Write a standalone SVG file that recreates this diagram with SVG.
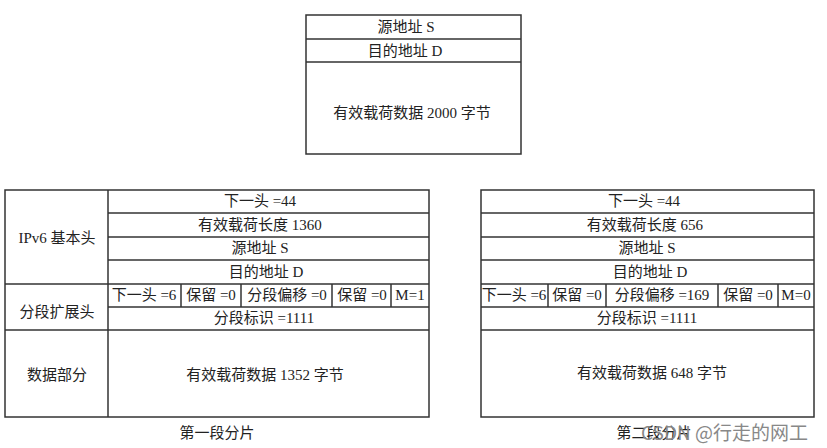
<svg xmlns="http://www.w3.org/2000/svg" width="827" height="448" viewBox="0 0 827 448">
<style>
.b{fill:none;stroke:#333;stroke-width:1.5}
.l{stroke:#333;stroke-width:1.5}
text{font-family:"Liberation Serif","Noto Sans CJK SC",serif;font-size:15px;fill:#222;text-anchor:middle}
.wm{font-family:"Noto Sans CJK SC","Liberation Sans",sans-serif;font-size:19px;fill:#888;text-anchor:start}
</style>
<rect width="827" height="448" fill="#fff"/>
<g id="original">
<rect class="b" x="306" y="15" width="215" height="139"/>
<line class="l" x1="306" y1="39" x2="521" y2="39"/>
<line class="l" x1="306" y1="62" x2="521" y2="62"/>
<text x="406" y="32">源地址 S</text>
<text x="405" y="56">目的地址 D</text>
<text x="412" y="118">有效载荷数据 2000 字节</text>
</g>
<g id="fragment1">
<rect class="b" x="5" y="190" width="424" height="227"/>
<line class="l" x1="108" y1="190" x2="108" y2="417"/>
<line class="l" x1="108" y1="213" x2="429" y2="213"/>
<line class="l" x1="108" y1="237" x2="429" y2="237"/>
<line class="l" x1="108" y1="260" x2="429" y2="260"/>
<line class="l" x1="5" y1="284" x2="429" y2="284"/>
<line class="l" x1="108" y1="307" x2="429" y2="307"/>
<line class="l" x1="5" y1="330" x2="429" y2="330"/>
<line class="l" x1="181" y1="284" x2="181" y2="307"/>
<line class="l" x1="241" y1="284" x2="241" y2="307"/>
<line class="l" x1="332" y1="284" x2="332" y2="307"/>
<line class="l" x1="391" y1="284" x2="391" y2="307"/>
<text x="57" y="243">IPv6 基本头</text>
<text x="57" y="317">分段扩展头</text>
<text x="57" y="380">数据部分</text>
<text x="260" y="206">下一头 =44</text>
<text x="260" y="230">有效载荷长度 1360</text>
<text x="260" y="253">源地址 S</text>
<text x="266" y="277">目的地址 D</text>
<text x="144" y="300">下一头 =6</text>
<text x="211" y="300">保留 =0</text>
<text x="287" y="300">分段偏移 =0</text>
<text x="362" y="300">保留 =0</text>
<text x="410" y="300">M=1</text>
<text x="264" y="323">分段标识 =1111</text>
<text x="265" y="380">有效载荷数据 1352 字节</text>
<text x="217" y="438">第一段分片</text>
</g>
<g id="fragment2">
<rect class="b" x="481" y="190" width="333" height="227"/>
<line class="l" x1="481" y1="213" x2="814" y2="213"/>
<line class="l" x1="481" y1="237" x2="814" y2="237"/>
<line class="l" x1="481" y1="260" x2="814" y2="260"/>
<line class="l" x1="481" y1="284" x2="814" y2="284"/>
<line class="l" x1="481" y1="307" x2="814" y2="307"/>
<line class="l" x1="481" y1="330" x2="814" y2="330"/>
<line class="l" x1="548" y1="284" x2="548" y2="307"/>
<line class="l" x1="606" y1="284" x2="606" y2="307"/>
<line class="l" x1="718" y1="284" x2="718" y2="307"/>
<line class="l" x1="778" y1="284" x2="778" y2="307"/>
<text x="644" y="206">下一头 =44</text>
<text x="645" y="230">有效载荷长度 656</text>
<text x="647" y="253">源地址 S</text>
<text x="650" y="277">目的地址 D</text>
<text x="514" y="300">下一头 =6</text>
<text x="577" y="300">保留 =0</text>
<text x="662" y="300">分段偏移 =169</text>
<text x="748" y="300">保留 =0</text>
<text x="796" y="300">M=0</text>
<text x="647" y="323">分段标识 =1111</text>
<text x="652" y="378">有效载荷数据 648 字节</text>
<text x="654" y="438">第二段分片</text>
</g>
<text class="wm" x="641" y="440">CSDN @行走的网工</text>
</svg>
